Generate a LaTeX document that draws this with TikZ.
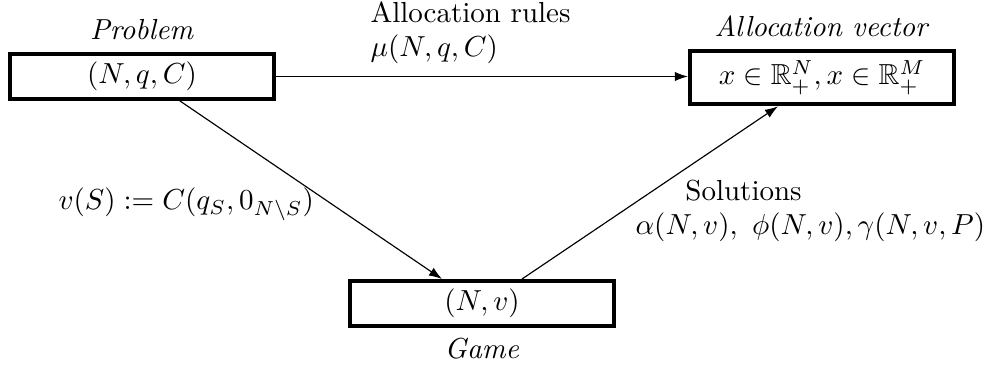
\documentclass[tikz,border=0pt]{standalone}
\usepackage{amsmath,amssymb}
\usetikzlibrary{calc,arrows.meta}
\begin{document}
\begin{tikzpicture}[x=0.345pt,y=-0.345pt,
  box/.style={draw,line width=1.4pt,minimum width=91.1pt,inner xsep=2pt,inner ysep=2.75pt},
  lbl/.style={inner sep=0pt},
  conn/.style={line width=0.4pt,-{Latex[length=4.5pt,width=3.2pt]}}]
\useasboundingbox (0,0) rectangle (989,367);
\node[box] (p) at (142,76.5) {$(N,q,C)$};
\node[box,inner ysep=3.4pt] (a) at (822,77.5) {$x\in\mathbb{R}^N_+, x\in\mathbb{R}^M_+$};
\node[box] (g) at (482,303.5) {$(N,v)$};
\node[lbl,anchor=base] (pl) at (142,40) {\textit{Problem}};
\node[lbl,anchor=base] (al) at (822,37) {\textit{Allocation vector}};
\node[lbl,anchor=base] (gl) at (482,359) {\textit{Game}};
\node[lbl,anchor=base west,align=left] (rl) at (370,57) {Allocation rules\\$\mu(N,q,C)$};
\node[lbl,anchor=base west] (vl) at (58,210) {$v(S):=C(q_S,0_{N\setminus S})$};
\node[lbl,anchor=base west,align=left] (sl) at (635,235) {\hspace*{17.2pt}Solutions\\$\alpha(N,v),\ \phi(N,v),\gamma(N,v,P)$};
\draw[conn] (p.east) -- (p.east -| a.west);
\draw[conn] ($(p.south)+(38,0)$) -- ($(g.north)+(-40,0)$);
\draw[conn] ($(g.north)+(40,0)$) -- ($(a.south)+(-44,0)$);
\end{tikzpicture}
\end{document}
